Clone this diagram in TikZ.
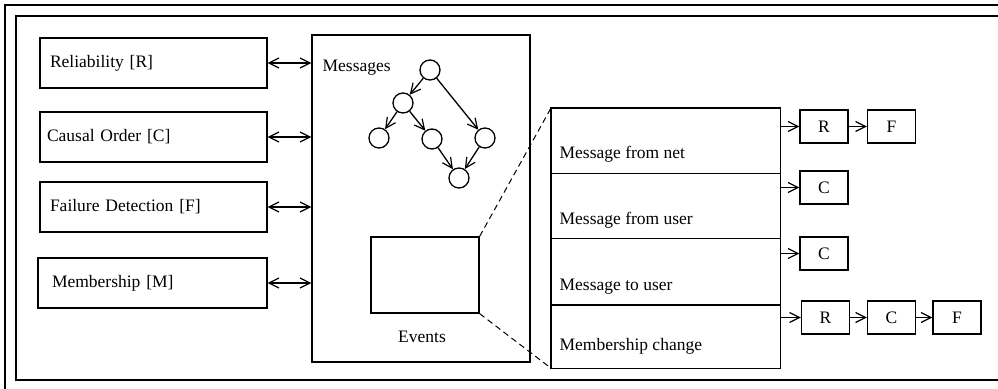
\documentclass[tikz,border=0pt]{standalone}
\usepackage{fontspec}
\setmainfont{Liberation Serif}
\usetikzlibrary{arrows.meta,calc}
\begin{document}
\begin{tikzpicture}[x=1pt,y=-1pt,
  every node/.style={font=\fontsize{17.5pt}{20pt}\selectfont},
  line width=1.3pt,
  >={Straight Barb[length=10pt,width=10pt,line width=1.2pt]},
  lbox/.style={draw, minimum height=50pt, text width=207pt, inner xsep=10pt, align=left},
  circ/.style={draw, circle, minimum size=20pt, inner sep=0pt},
  rowbox/.style={minimum width=228pt, inner sep=0pt},
  sbox/.style={draw, minimum width=48pt, minimum height=33pt, inner sep=0pt},
  lbl/.style={anchor=west, inner sep=0pt}]
\useasboundingbox (0,0) rectangle (998,388);
\clip (0,0) rectangle (998,388);
% frames
\draw (5,5) rectangle (1010,400);
\draw (16,16) rectangle (1005,380);
% left boxes
\node[lbox] (rel) at (153.5,63) {Reliability [R]};
\node[lbox, inner xsep=7pt, text width=213pt] (cau) at (153.5,137) {Causal Order [C]};
\node[lbox] (fai) at (153.5,207) {Failure Detection [F]};
\node[lbox, inner xsep=14pt, text width=201pt] (mem) at (152.5,283) {Membership [M]};
% messages box
\node[draw, minimum width=218pt, minimum height=327pt, inner sep=0pt] (msg) at (421,198.5) {};
\node[lbl] (msgt) at (322,68) {Messages};
\node (evt) at (422,337) {Events};
\node[draw, minimum width=108pt, minimum height=76pt, inner sep=0pt] (ev) at (425,275) {};
% arrows left
\foreach \b in {rel,cau,fai,mem}
  \draw[<->] (\b.east) -- (\b.east -| msg.west);
% tree
\node[circ] (c1) at (430,70) {};
\node[circ] (c2) at (403,103) {};
\node[circ] (c3) at (379,138) {};
\node[circ] (c4) at (432,139) {};
\node[circ] (c5) at (485,138) {};
\node[circ] (c6) at (459,178) {};
\draw[->] (c1) -- (c2);
\draw[->] (c1) -- (c5);
\draw[->] (c2) -- (c3);
\draw[->] (c2) -- (c4);
\draw[->] (c4) -- (c6);
\draw[->] (c5) -- (c6);
% table
\node[rowbox, minimum height=64pt, anchor=north west] (r1) at (551,108) {};
\node[rowbox, minimum height=64pt, anchor=north west] (r2) at (r1.south west) {};
\node[rowbox, minimum height=65pt, anchor=north west] (r3) at (r2.south west) {};
\node[rowbox, minimum height=62pt, anchor=north west] (r4) at (r3.south west) {};
\draw (r1.north west) rectangle (r4.south east);
\draw (r1.south west) -- (r1.south east);
\draw (r2.south west) -- (r2.south east);
\draw (r3.south west) -- (r3.south east);
\node[lbl] (t1) at ($(r1.south west)+(8,-19)$) {Message from net};
\node[lbl] (t2) at ($(r2.south west)+(8,-18)$) {Message from user};
\node[lbl] (t3) at ($(r3.south west)+(8,-18)$) {Message to user};
\node[lbl] (t4) at ($(r4.south west)+(8,-22)$) {Membership change};
% dashed zoom lines
\draw[line width=1pt, dash pattern=on 6pt off 4pt] (ev.north east) -- (r1.north west);
\draw[line width=1pt, dash pattern=on 6pt off 4pt] (ev.south east) -- (r4.south west);
% small boxes
\node[sbox] (b1r) at (824,126.5) {R};
\node[sbox] (b1f) at (891.5,126.5) {F};
\node[sbox] (b2c) at (824,187.5) {C};
\node[sbox] (b3c) at (824,253.5) {C};
\node[sbox] (b4r) at (825.5,317.5) {R};
\node[sbox] (b4c) at (891.5,317.5) {C};
\node[sbox] (b4f) at (957,317.5) {F};
\draw[->] (b1r.west -| r1.east) -- (b1r.west);
\draw[->] (b1r) -- (b1f);
\draw[->] (b2c.west -| r2.east) -- (b2c.west);
\draw[->] (b3c.west -| r3.east) -- (b3c.west);
\draw[->] (b4r.west -| r4.east) -- (b4r.west);
\draw[->] (b4r) -- (b4c);
\draw[->] (b4c) -- (b4f);
\end{tikzpicture}
\end{document}
